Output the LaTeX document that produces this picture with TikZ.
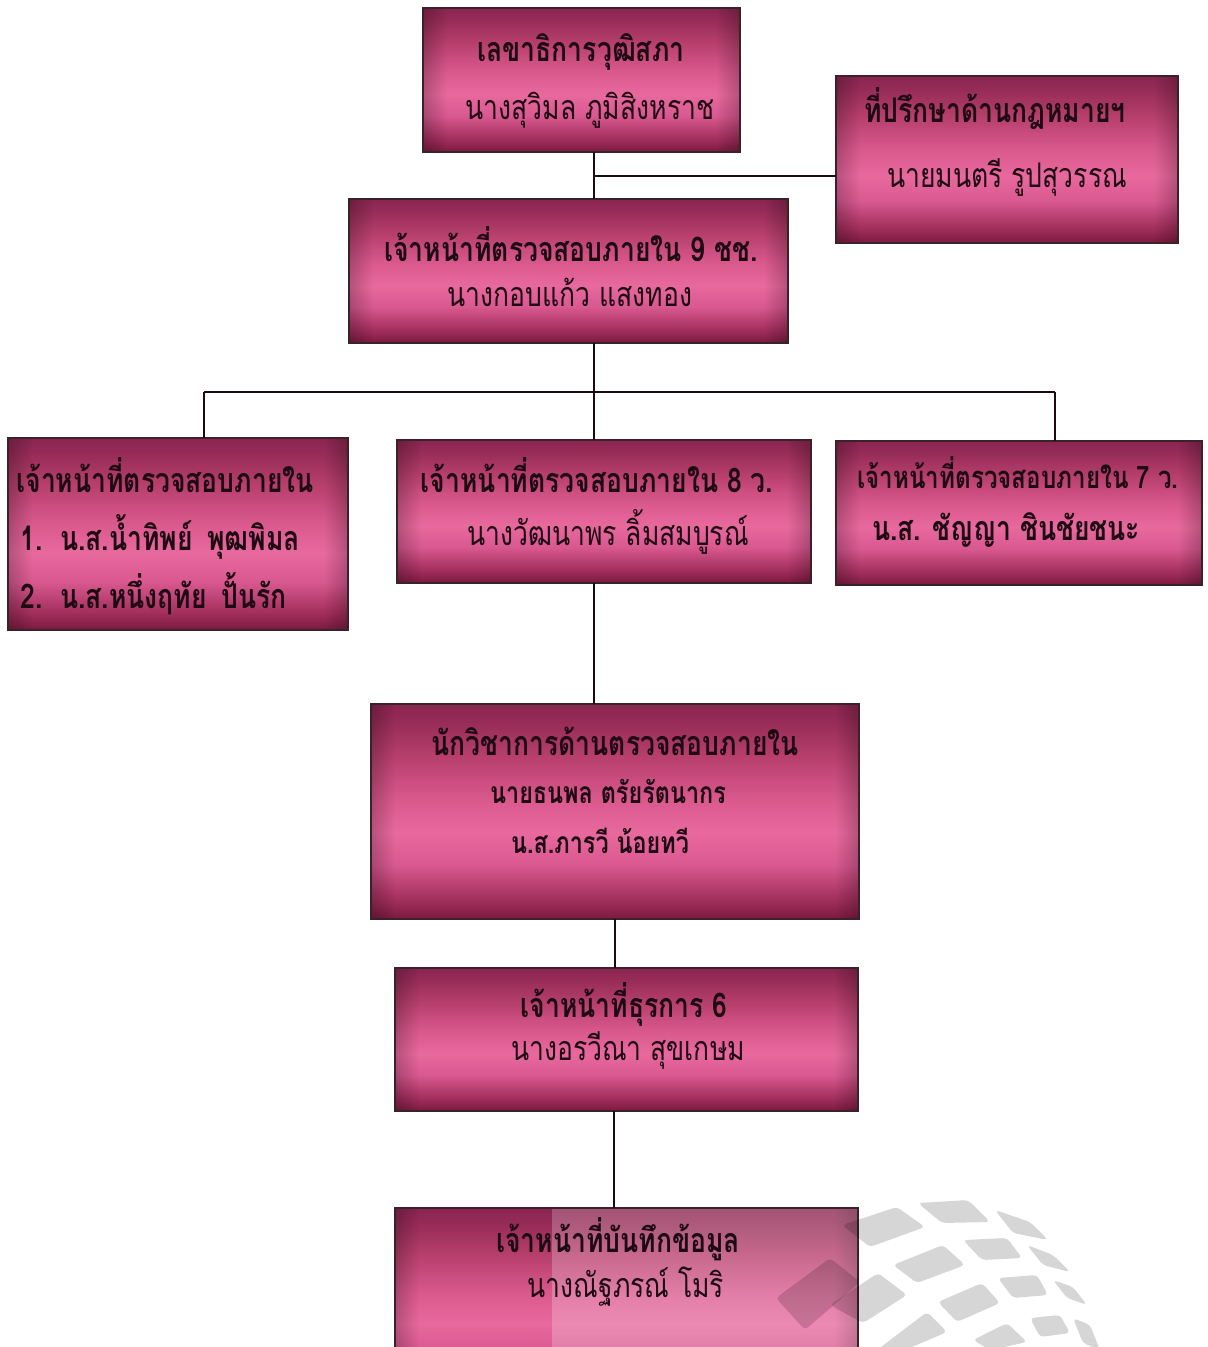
\documentclass[tikz,border=0pt]{standalone}
\usepackage{fontspec}
\usetikzlibrary{fadings}
\newfontfamily\thai[Script=Thai,FakeStretch=0.78]{Loma}
\definecolor{ink}{HTML}{1E0A12}
\definecolor{rim}{HTML}{3A2229}
\definecolor{shA}{HTML}{7A1A40}
\definecolor{shB}{HTML}{9E2C58}
\definecolor{shC}{HTML}{D85890}
\definecolor{shD}{HTML}{E8699E}
\definecolor{shE}{HTML}{DA5A8E}
\definecolor{shF}{HTML}{B8406D}
\definecolor{shG}{HTML}{962C56}
\definecolor{shH}{HTML}{8A2550}
% dark rim, bright band just below the middle
\pgfdeclareverticalshading{boxshade}{100bp}{color(0bp)=(shA); color(25bp)=(shA);
  color(29bp)=(shB); color(37.5bp)=(shC); color(45bp)=(shD); color(52.5bp)=(shE);
  color(62.5bp)=(shF); color(71bp)=(shG); color(75bp)=(shH); color(100bp)=(shH)}
\tikzset{
  orgbox/.style={draw=rim, line width=1pt, shading=boxshade, inner sep=0pt, outer sep=0pt},
  link/.style={draw=ink, line width=1.2pt},
  ttl/.style={font=\thai\bfseries\fontsize{17}{20}\selectfont, text=ink, inner sep=0pt, anchor=base},
  ttls/.style={font=\thai\bfseries\fontsize{15.5}{18}\selectfont, text=ink, inner sep=0pt, anchor=base},
  nm/.style={font=\thai\fontsize{17}{20}\selectfont, text=ink, inner sep=0pt, anchor=base},
  nmb/.style={font=\thai\bfseries\fontsize{17}{20}\selectfont, text=ink, inner sep=0pt, anchor=base},
  nmbs/.style={font=\thai\bfseries\fontsize{15}{18}\selectfont, text=ink, inner sep=0pt, anchor=base},
  wm/.style={fill=black, fill opacity=0.16, rounded corners=2pt},
  sideshade/.style={fill=black, fill opacity=0.22},
}
% box with slightly darkened side edges
\newcommand\orgnode[5]{%
  \node[orgbox, minimum width=#4*0.5pt, minimum height=#5*0.5pt] (#1) at (#2,#3) {};
  \fill[sideshade, path fading=east] (#1.south west) rectangle ([xshift=12pt]#1.north west);
  \fill[sideshade, path fading=west] ([xshift=-12pt]#1.south east) rectangle (#1.north east);
  \draw[rim, line width=1pt] (#1.south west) rectangle (#1.north east);}
\begin{document}
\begin{tikzpicture}[x=0.5pt, y=-0.5pt]
\clip (0,0) rectangle (1207,1347);
\fill[white] (0,0) rectangle (1207,1347);

% boxes (centre x, centre y, width, height in pixels)
\orgnode{sec}{581.5}{80}{317}{144}
\orgnode{adv}{1007}{159.5}{342}{167}
\orgnode{aud}{568.5}{271}{439}{144}
\orgnode{audl}{178}{534}{340}{192}
\orgnode{audm}{604}{511.5}{414}{143}
\orgnode{audr}{1019}{513}{366}{144}
\orgnode{acad}{615}{811.5}{488}{215}
\orgnode{clerk}{626.5}{1039.5}{463}{143}
\orgnode{rec}{626.5}{1304}{463}{192}

% junction points of the connectors
\coordinate (j1) at (594,176);
\coordinate (bus) at (594,392);
\coordinate (bl) at (204,392);
\coordinate (br) at (1055,392);
\coordinate (j2) at (615,940);
\coordinate (j3) at (614,1160);

\draw[link] (j1 |- sec.south) -- (j1 |- aud.north);
\draw[link] (j1) -- (j1 -| adv.west);
\draw[link] (bus |- aud.south) -- (bus |- audm.north);
\draw[link] (bl) -- (br);
\draw[link] (bl) -- (bl |- audl.north);
\draw[link] (br) -- (br |- audr.north);
\draw[link] (bus |- audm.south) -- (bus |- acad.north);
\draw[link] (j2 |- acad.south) -- (j2 |- clerk.north);
\draw[link] (j3 |- clerk.south) -- (j3 |- rec.north);

% faint watermark over the bottom box
\fill[white, fill opacity=0.22] (552,1209) rectangle (857,1347);
\fill[wm] (776,1298) -- (830,1258) -- (860,1282) -- (805,1330) -- cycle;
\fill[wm] (842,1225) -- (897,1207) -- (925,1227) -- (870,1247) -- cycle;
\fill[wm] (918,1203) -- (968,1200) -- (990,1222) -- (942,1223) -- cycle;
\fill[wm] (995,1210) -- (1030,1222) -- (1048,1240) -- (1013,1233) -- cycle;
\fill[wm] (893,1265) -- (943,1245) -- (965,1265) -- (917,1283) -- cycle;
\fill[wm] (963,1240) -- (1007,1238) -- (1022,1258) -- (982,1260) -- cycle;
\fill[wm] (1027,1245) -- (1053,1255) -- (1070,1272) -- (1043,1265) -- cycle;
\fill[wm] (830,1305) -- (878,1273) -- (907,1295) -- (863,1323) -- cycle;
\fill[wm] (938,1302) -- (982,1283) -- (1000,1303) -- (957,1322) -- cycle;
\fill[wm] (998,1278) -- (1037,1275) -- (1048,1295) -- (1013,1298) -- cycle;
\fill[wm] (1053,1280) -- (1073,1287) -- (1087,1305) -- (1067,1298) -- cycle;
\fill[wm] (877,1350) -- (927,1312) -- (947,1332) -- (905,1350) -- cycle;
\fill[wm] (973,1340) -- (1007,1323) -- (1027,1342) -- (990,1350) -- cycle;
\fill[wm] (1030,1318) -- (1060,1315) -- (1070,1333) -- (1040,1337) -- cycle;
\fill[wm] (1073,1318) -- (1090,1325) -- (1100,1350) -- (1083,1343) -- cycle;

% texts
\node[ttl] (secT) at (581,62) {เลขาธิการวุฒิสภา};
\node[nm]  (secN) at (590,120) {นางสุวิมล ภูมิสิงหราช};
\node[ttl] (advT) at (995,123) {ที่ปรึกษาด้านกฎหมายฯ};
\node[nm]  (advN) at (1007,188) {นายมนตรี รูปสุวรรณ};
\node[ttl] (audT) at (571,262) {เจ้าหน้าที่ตรวจสอบภายใน 9 ชช.};
\node[nm]  (audN) at (570,307) {นางกอบแก้ว แสงทอง};
\node[ttl, anchor=base west] (audlT) at (16,492) {เจ้าหน้าที่ตรวจสอบภายใน};
\node[nmb, anchor=base west] (audlA) at (20,550) {1.\, น.ส.น้ำทิพย์ \,พุฒพิมล};
\node[nmb, anchor=base west] (audlB) at (20,608) {2.\, น.ส.หนึ่งฤทัย \,ปั้นรัก};
\node[ttl] (audmT) at (597,492) {เจ้าหน้าที่ตรวจสอบภายใน 8 ว.};
\node[nm]  (audmN) at (608,545) {นางวัฒนาพร ลิ้มสมบูรณ์};
\node[ttls] (audrT) at (1018,488) {เจ้าหน้าที่ตรวจสอบภายใน 7 ว.};
\node[nmb] (audrN) at (1006,540) {น.ส. ชัญญา ชินชัยชนะ};
\node[ttl] (acadT) at (615,755) {นักวิชาการด้านตรวจสอบภายใน};
\node[nmbs] (acadA) at (608,803) {นายธนพล ตรัยรัตนากร};
\node[nmbs] (acadB) at (600,853) {น.ส.ภารวี น้อยทวี};
\node[ttl] (clerkT) at (624,1017) {เจ้าหน้าที่ธุรการ 6};
\node[nm]  (clerkN) at (628,1060) {นางอรวีณา สุขเกษม};
\node[ttl] (recT) at (618,1252) {เจ้าหน้าที่บันทึกข้อมูล};
\node[nm]  (recN) at (626,1297) {นางณัฐภรณ์ โมริ};
\end{tikzpicture}
\end{document}
